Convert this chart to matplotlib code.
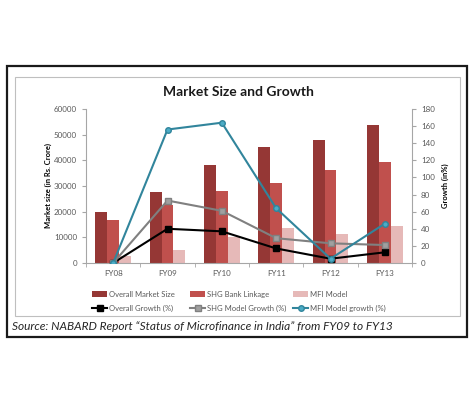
import matplotlib
matplotlib.use('Agg')
import matplotlib.pyplot as plt
from matplotlib.patches import Rectangle
import numpy as np

plt.rcParams['font.family'] = ['Lato', 'DejaVu Sans']

years = ['FY08', 'FY09', 'FY10', 'FY11', 'FY12', 'FY13']
overall_size = [19800, 27700, 38000, 45000, 47800, 53800]
shg_size = [16900, 22700, 28000, 31100, 36300, 39400]
mfi_size = [2700, 4900, 10000, 13600, 11300, 14300]
overall_growth = [0, 40, 37, 17, 5, 12.5]
shg_growth = [0, 73, 61, 29, 23, 21]
mfi_growth = [0, 156, 164, 64, 5, 46]

c_overall = '#953735'
c_shg = '#C0504D'
c_mfi = '#E6B9B8'
c_teal = '#31859C'
c_teal_fill = '#4BACC6'
c_gray = '#808080'
axis_col = '#A6A6A6'
tick_txt = '#595959'

fig = plt.figure(figsize=(4.76, 4.03), dpi=100)

# outer black frame and inner chart border
fig.patches.append(Rectangle((7 / 476, 1 - 337 / 403), 460 / 476, 271 / 403,
                             transform=fig.transFigure, fill=False,
                             edgecolor='#1a1a1a', linewidth=1.6))
fig.patches.append(Rectangle((15 / 476, 1 - 316 / 403), 445 / 476, 239 / 403,
                             transform=fig.transFigure, fill=False,
                             edgecolor='#BFBFBF', linewidth=0.8))

ax = fig.add_axes([86 / 476, 1 - 263 / 403, 326 / 476, 154 / 403])
x = np.arange(len(years))
w = 0.22
ax.bar(x - w, overall_size, w, color=c_overall, label='Overall Market Size')
ax.bar(x, shg_size, w, color=c_shg, label='SHG Bank Linkage')
ax.bar(x + w, mfi_size, w, color=c_mfi, label='MFI Model')
ax.set_xlim(-0.5, len(years) - 0.5)
ax.set_ylim(0, 60000)
ax.set_yticks(range(0, 60001, 10000))
ax.set_xticks(x)
ax.set_xticklabels(years)
ax.set_xticks(np.arange(-0.5, len(years)), minor=True)
ax.tick_params(axis='x', which='major', length=0, labelsize=5.8, colors=tick_txt, pad=5)
ax.tick_params(axis='x', which='minor', length=3, color=axis_col)
ax.tick_params(axis='y', labelsize=5.8, colors=tick_txt, length=3, color=axis_col)
ax.set_ylabel('Market size (in Rs. Crore)', fontsize=5.5, fontweight='bold', labelpad=1)
for s in ['top', 'right']:
    ax.spines[s].set_visible(False)
for s in ['left', 'bottom']:
    ax.spines[s].set_color(axis_col)
    ax.spines[s].set_linewidth(0.8)

ax2 = ax.twinx()
ax2.plot(x, overall_growth, color='black', lw=1.5, marker='s', ms=4,
         label='Overall Growth (%)')
ax2.plot(x, shg_growth, color=c_gray, lw=1.5, marker='s', ms=4,
         markerfacecolor='#A0A0A0', label='SHG Model Growth (%)')
ax2.plot(x, mfi_growth, color=c_teal, lw=1.5, marker='o', ms=4,
         markerfacecolor=c_teal_fill, label='MFI Model growth (%)')
ax2.set_ylim(0, 180)
ax2.set_yticks(range(0, 181, 20))
ax2.tick_params(axis='y', labelsize=5.8, colors=tick_txt, length=3, color=axis_col)
ax2.set_ylabel('Growth (in%)', fontsize=5.5, fontweight='bold', labelpad=5)
for s in ['top', 'left', 'bottom']:
    ax2.spines[s].set_visible(False)
ax2.spines['right'].set_color(axis_col)
ax2.spines['right'].set_linewidth(0.8)

fig.text(238 / 476, 1 - 92 / 403, 'Market Size and Growth', ha='center', va='center',
         fontsize=10, fontweight='bold', color='#1a1a1a')

# legend: three columns (bar entry above line entry), Excel-like placement
h1, l1 = ax.get_legend_handles_labels()
h2, l2 = ax2.get_legend_handles_labels()
col_x = [92, 190, 293]
for i in range(3):
    fig.legend([h1[i], h2[i]], [l1[i], l2[i]], loc='center left',
               bbox_to_anchor=(col_x[i] / 476, 1 - 301.5 / 403),
               frameon=False, fontsize=5.5, handlelength=2.0, handletextpad=0.2,
               labelspacing=0.95, borderpad=0, borderaxespad=0,
               labelcolor=tick_txt)

fig.text(12 / 476, 1 - 327 / 403,
         'Source: NABARD Report \u201cStatus of Microfinance in India\u201d from FY09 to FY13',
         ha='left', va='center', fontsize=8.6, fontstyle='italic', color='#262626')

fig.savefig('out.png', dpi=100)
